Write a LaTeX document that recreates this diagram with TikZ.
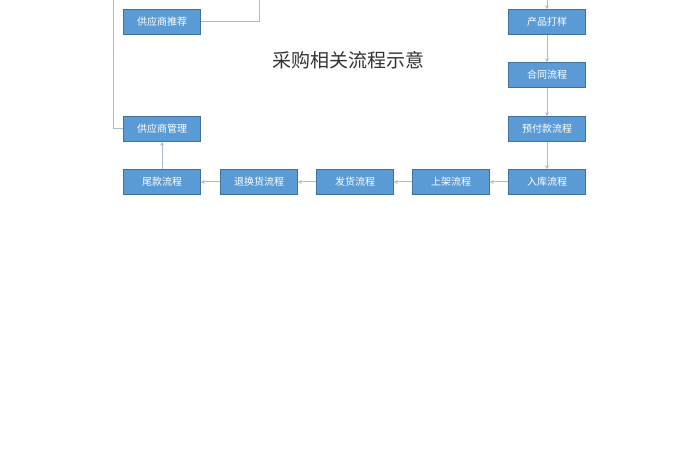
\documentclass[tikz,border=0pt]{standalone}
\usepackage{fontspec}
\setmainfont{Noto Sans CJK SC}
\usetikzlibrary{arrows.meta}
\definecolor{boxfill}{HTML}{5B9BD5}
\definecolor{boxline}{HTML}{41719C}
\definecolor{conn}{HTML}{A9BCD3}
\begin{document}
\begin{tikzpicture}[x=1pt,y=-1pt,
  pbox/.style={draw=boxline,line width=0.6pt,fill=boxfill,minimum width=77pt,minimum height=25pt,inner sep=0pt,text=white,font=\fontsize{10}{12}\selectfont},
  link/.style={draw=conn,line width=1pt},
  arr/.style={link,-{Stealth[length=4pt,width=4pt]}}]
\useasboundingbox[fill=white] (0,0) rectangle (700,470);
\node[pbox] (tj) at (162,22) {供应商推荐};
\node[pbox] (gl) at (162,129) {供应商管理};
\node[pbox] (wk) at (162,182) {尾款流程};
\node[pbox] (th) at (259,182) {退换货流程};
\node[pbox] (fh) at (355,182) {发货流程};
\node[pbox] (sj) at (451,182) {上架流程};
\node[pbox] (rk) at (547,182) {入库流程};
\node[pbox] (dy) at (547,22) {产品打样};
\node[pbox] (ht) at (547,75) {合同流程};
\node[pbox] (yf) at (547,129) {预付款流程};
\node[font=\fontsize{19}{22}\selectfont,text=black!80] (title) at (348,60) {采购相关流程示意};
\coordinate (ta) at (259,0);
\coordinate (tb) at (113,0);
\coordinate (tc) at (547,0);
\draw[link] (tj.east) -| (ta);
\draw[link] (tb) |- (gl.west);
\draw[arr] (tc) -- (dy.north);
\draw[arr] (dy) -- (ht);
\draw[arr] (ht) -- (yf);
\draw[arr] (yf) -- (rk);
\draw[arr] (rk) -- (sj);
\draw[arr] (sj) -- (fh);
\draw[arr] (fh) -- (th);
\draw[arr] (th) -- (wk);
\draw[arr] (wk) -- (gl);
\end{tikzpicture}
\end{document}
